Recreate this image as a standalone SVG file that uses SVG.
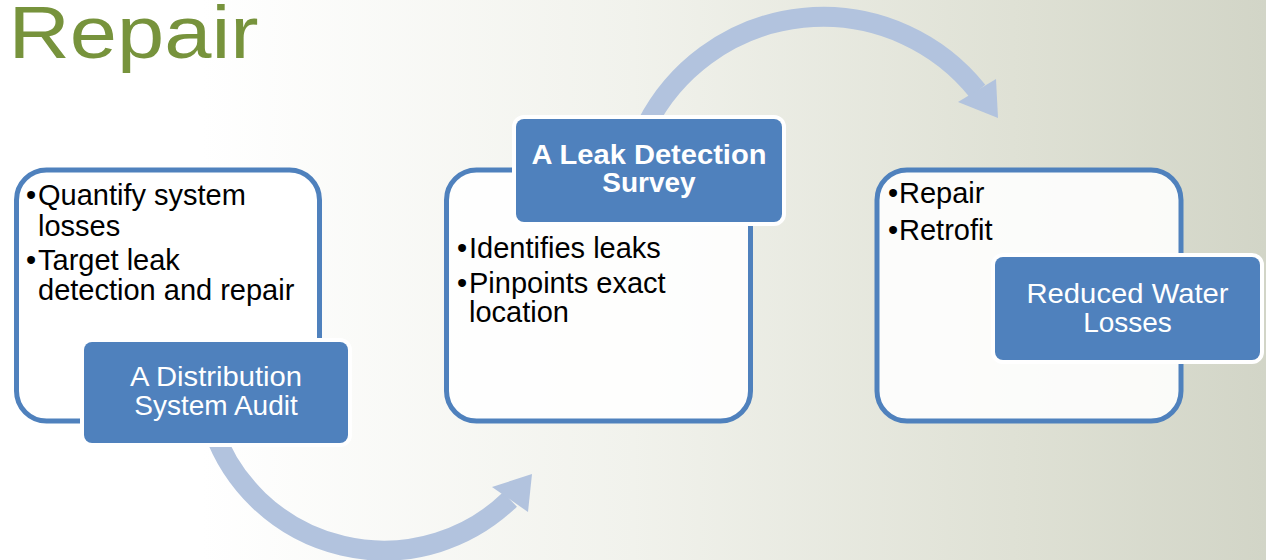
<svg xmlns="http://www.w3.org/2000/svg" width="1266" height="560" viewBox="0 0 1266 560">
  <defs>
    <linearGradient id="bg" x1="0" y1="0" x2="1" y2="0">
      <stop offset="0" stop-color="#FFFFFF"/>
      <stop offset="0.16" stop-color="#FFFFFF"/>
      <stop offset="0.5" stop-color="#F1F2EC"/>
      <stop offset="0.8" stop-color="#DFE1D5"/>
      <stop offset="1" stop-color="#D2D5C7"/>
    </linearGradient>
    <style>
      .outer { fill: #FFFFFF; fill-opacity: 0.88; stroke: #4F81BD; stroke-width: 5; }
      .label { fill: #4F81BD; stroke: #FFFFFF; stroke-width: 8; paint-order: stroke; }
      .body { font-family: "Liberation Sans", Arial, sans-serif; font-size: 29px; fill: #000000; }
      .lbl { font-family: "Liberation Sans", Arial, sans-serif; font-size: 28px; fill: #FFFFFF; text-anchor: middle; }
      .bold { font-weight: bold; }
      .arc { fill: none; stroke: #B2C3DE; stroke-width: 20; }
      .head { fill: #B2C3DE; }
    </style>
  </defs>

  <rect x="0" y="0" width="1266" height="560" fill="url(#bg)"/>

  <text x="8.5" y="58" font-family="Liberation Sans, Arial, sans-serif" font-size="75" fill="#77933C" textLength="250" lengthAdjust="spacingAndGlyphs">Repair</text>

  <g id="connectors">
    <path class="arc" d="M 213.3 430 A 181 181 0 0 0 510 499.5"/>
    <polygon class="head" points="532,474 492,487 528,512"/>
    <path class="arc" d="M 646.6 125 A 198 198 0 0 1 977.5 91"/>
    <polygon class="head" points="998,118 958,102 996,79"/>
  </g>

  <g id="node1">
    <rect class="outer" x="16.5" y="170" width="303" height="251" rx="30"/>
    <text class="body" x="26" y="205">•<tspan x="38">Quantify system</tspan></text>
    <text class="body" x="38" y="236">losses</text>
    <text class="body" x="26" y="270">•<tspan x="38">Target leak</tspan></text>
    <text class="body" x="38" y="300">detection and repair</text>
    <rect class="label" x="84" y="342" width="264" height="101" rx="8"/>
    <text class="lbl" x="216" y="386" textLength="172" lengthAdjust="spacingAndGlyphs">A Distribution</text>
    <text class="lbl" x="216" y="415">System Audit</text>
  </g>

  <g id="node2">
    <rect class="outer" x="446.5" y="170" width="304" height="251" rx="30"/>
    <rect class="label" x="516" y="119" width="266" height="103" rx="8"/>
    <text class="lbl bold" x="649" y="164" textLength="235" lengthAdjust="spacingAndGlyphs">A Leak Detection</text>
    <text class="lbl bold" x="649" y="192">Survey</text>
    <text class="body" x="457" y="258">•<tspan x="469">Identifies leaks</tspan></text>
    <text class="body" x="457" y="293">•<tspan x="469">Pinpoints exact</tspan></text>
    <text class="body" x="469" y="322">location</text>
  </g>

  <g id="node3">
    <rect class="outer" x="877" y="170" width="304" height="251" rx="30"/>
    <text class="body" x="888" y="203">•<tspan x="899">Repair</tspan></text>
    <text class="body" x="888" y="240">•<tspan x="899">Retrofit</tspan></text>
    <rect class="label" x="995" y="257" width="265" height="103" rx="8"/>
    <text class="lbl" x="1127.5" y="302.5" textLength="202" lengthAdjust="spacingAndGlyphs">Reduced Water</text>
    <text class="lbl" x="1127.5" y="332">Losses</text>
  </g>
</svg>
